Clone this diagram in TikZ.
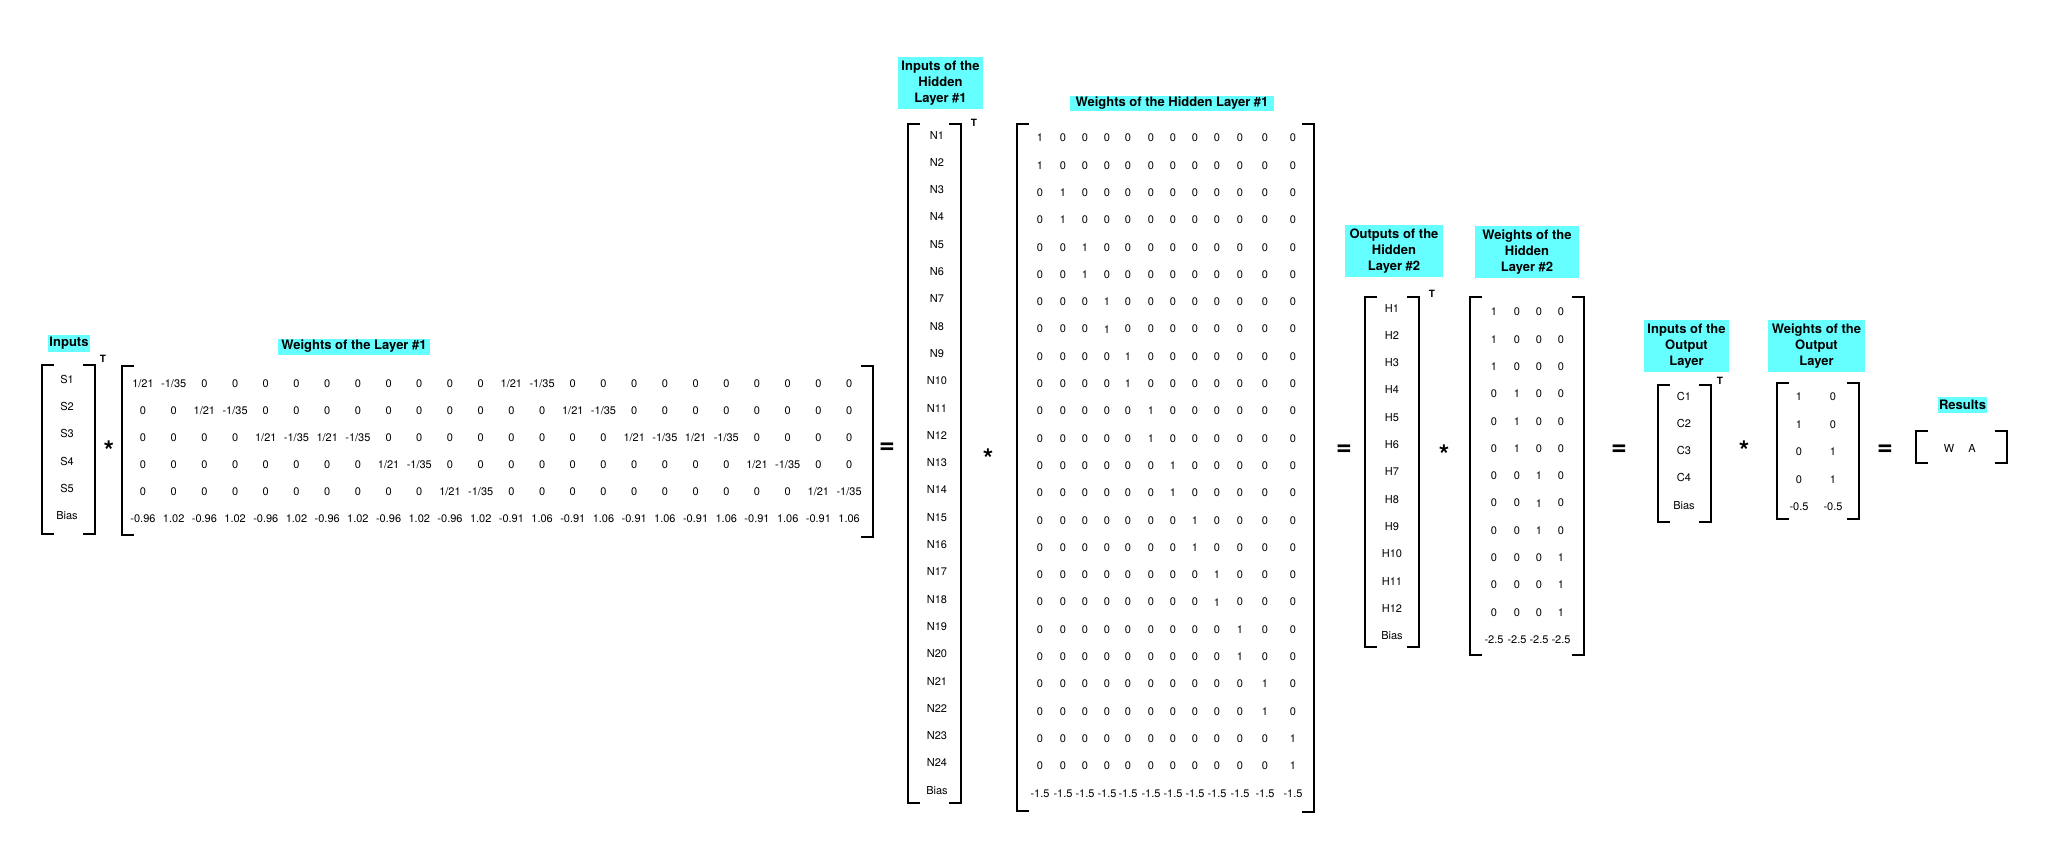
\documentclass[tikz,border=0pt]{standalone}
\usepackage{fontspec}
\setmainfont{TeX Gyre Heros}
\definecolor{lblcyan}{RGB}{102,255,255}
\begin{document}
\begin{tikzpicture}[x=1pt,y=-1pt,
  ent/.style={font=\fontsize{11}{13}\selectfont, inner sep=0pt},
  lbl/.style={fill=lblcyan, font=\bfseries\fontsize{13}{16}\selectfont, inner sep=0pt, align=center},
  brk/.style={line width=2.4pt, line cap=butt, line join=miter},
  tsup/.style={font=\bfseries\fontsize{10}{12}\selectfont, inner sep=0pt},
  eqop/.style={font=\bfseries\fontsize{27}{27}\selectfont, inner sep=0pt, anchor=base},
  mulop/.style={font=\bfseries\fontsize{27}{27}\selectfont, inner sep=0pt, anchor=base}]
\useasboundingbox (0,0) rectangle (2045,854);
\newcommand\mbrk[5]{%
  \draw[brk] ({#1+12},#3) -- (#1,#3) -- (#1,#4) -- ({#1+12},#4);
  \draw[brk] ({#2-12},#3) -- (#2,#3) -- (#2,#5) -- ({#2-12},#5);}

% ---------- Inputs ----------
\node[lbl, minimum width=42pt, minimum height=17pt] (lin) at (69,343.5) {Inputs};
\mbrk{42}{95}{365}{534}{534}
\node[tsup] (tin) at (103,359) {T};
\foreach \t [count=\k] in {S1,S2,S3,S4,S5,Bias}
  \node[ent] (in-\k) at (67,{379+27.4*(\k-1)}) {\t};

\node[mulop] (m1) at (109,460) {*};

% ---------- Weights of the Layer #1 ----------
\node[lbl, minimum width=152pt, minimum height=16pt] (lw1) at (354,346.5) {Weights of the Layer \#1};
\mbrk{122}{873}{366}{535}{537}
\foreach \row [count=\i] in {
 {1/21,-1/35,0,0,0,0,0,0,0,0,0,0,1/21,-1/35,0,0,0,0,0,0,0,0,0,0},
 {0,0,1/21,-1/35,0,0,0,0,0,0,0,0,0,0,1/21,-1/35,0,0,0,0,0,0,0,0},
 {0,0,0,0,1/21,-1/35,1/21,-1/35,0,0,0,0,0,0,0,0,1/21,-1/35,1/21,-1/35,0,0,0,0},
 {0,0,0,0,0,0,0,0,1/21,-1/35,0,0,0,0,0,0,0,0,0,0,1/21,-1/35,0,0},
 {0,0,0,0,0,0,0,0,0,0,1/21,-1/35,0,0,0,0,0,0,0,0,0,0,1/21,-1/35},
 {-0.96,1.02,-0.96,1.02,-0.96,1.02,-0.96,1.02,-0.96,1.02,-0.96,1.02,-0.91,1.06,-0.91,1.06,-0.91,1.06,-0.91,1.06,-0.91,1.06,-0.91,1.06}}
{
  \foreach \v [count=\j] in \row
    \node[ent] (wl-\i-\j) at ({143+30.7*(\j-1)},{384+27*(\i-1)}) {\v};
}

\node[eqop] (e1) at (887,453) {=};

% ---------- Inputs of the Hidden Layer #1 ----------
\node[lbl, minimum width=85pt, minimum height=52pt] (lnh) at (940.5,83) {Inputs of the\\Hidden\\Layer \#1};
\mbrk{908}{961}{124}{803}{803}
\node[tsup] (tnh) at (974,123) {T};
\foreach \k in {1,...,24}
  \node[ent] (nh-\k) at (937,{135+27.3*(\k-1)}) {N\k};
\node[ent] (nh-25) at (937,{135+27.3*24}) {Bias};

\node[mulop] (m2) at (988,468) {*};

% ---------- Weights of the Hidden Layer #1 ----------
\node[lbl, minimum width=204pt, minimum height=15pt] (lwh1) at (1172,103) {Weights of the Hidden Layer \#1};
\mbrk{1017}{1314}{124}{811}{812}
\foreach \cx [count=\j] in {1040,1063,1085,1107,1128,1151,1173,1195,1217,1240,1265,1293} {
  \foreach \i in {1,...,24} {
    \pgfmathtruncatemacro\v{\j==int((\i+1)/2)}
    \node[ent] (wh-\i-\j) at (\cx,{138+27.3*(\i-1)}) {\v};
  }
  \node[ent] (wh-25-\j) at (\cx,{138+27.3*24}) {-1.5};
}

\node[eqop] (e2) at (1344,455) {=};

% ---------- Outputs of the Hidden Layer #2 ----------
\node[lbl, minimum width=98pt, minimum height=52pt] (lh2) at (1394,251) {Outputs of the\\Hidden\\Layer \#2};
\mbrk{1365}{1419}{297}{647}{647}
\node[tsup] (th2) at (1432,294) {T};
\foreach \k in {1,...,12}
  \node[ent] (h-\k) at (1392,{308+27.3*(\k-1)}) {H\k};
\node[ent] (h-13) at (1392,{308+27.3*12}) {Bias};

\node[mulop] (m3) at (1444,464) {*};

% ---------- Weights of the Hidden Layer #2 ----------
\node[lbl, minimum width=104pt, minimum height=52pt] (lwh2) at (1527,252) {Weights of the\\Hidden\\Layer \#2};
\mbrk{1470}{1584}{297}{655}{655}
\foreach \cx [count=\j] in {1494,1517,1539,1561} {
  \foreach \i in {1,...,12} {
    \pgfmathtruncatemacro\v{\j==int((\i+2)/3)}
    \node[ent] (w2-\i-\j) at (\cx,{312+27.3*(\i-1)}) {\v};
  }
  \node[ent] (w2-13-\j) at (\cx,{312+27.3*12}) {-2.5};
}

\node[eqop] (e3) at (1619,455) {=};

% ---------- Inputs of the Output Layer ----------
\node[lbl, minimum width=85pt, minimum height=52pt] (lc) at (1686.5,346) {Inputs of the\\Output\\Layer};
\mbrk{1658}{1711}{385}{522}{522}
\node[tsup] (tc) at (1720,381) {T};
\foreach \t [count=\k] in {C1,C2,C3,C4,Bias}
  \node[ent] (c-\k) at (1684,{396+27.3*(\k-1)}) {\t};

\node[mulop] (m4) at (1744,460) {*};

% ---------- Weights of the Output Layer ----------
\node[lbl, minimum width=97pt, minimum height=52pt] (lwo) at (1816.5,346) {Weights of the\\Output\\Layer};
\mbrk{1777}{1859}{383}{519}{519}
\foreach \a/\b [count=\i] in {1/0,1/0,0/1,0/1,-0.5/-0.5} {
  \node[ent] (wo-\i-1) at (1799,{397+27.4*(\i-1)}) {\a};
  \node[ent] (wo-\i-2) at (1833,{397+27.4*(\i-1)}) {\b};
}

\node[eqop] (e4) at (1885,455) {=};

% ---------- Results ----------
\node[lbl, minimum width=49pt, minimum height=16pt] (lres) at (1962.5,405) {Results};
\mbrk{1916}{2007}{431}{463}{463}
\node[ent] (rw) at (1949,448) {W};
\node[ent] (ra) at (1972,448) {A};
\end{tikzpicture}
\end{document}
